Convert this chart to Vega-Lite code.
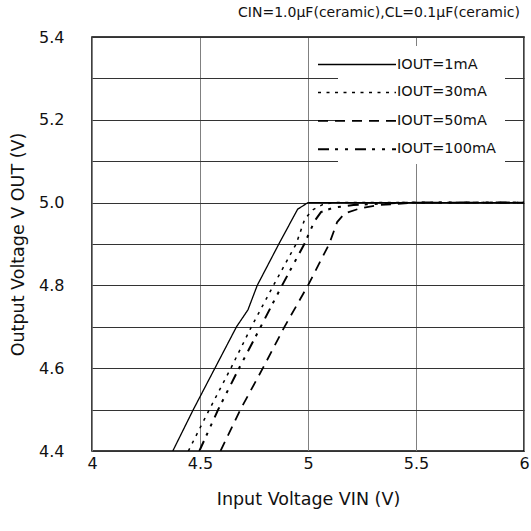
{
  "$schema": "https://vega.github.io/schema/vega-lite/v6.json",
  "width": 432,
  "height": 414,
  "autosize": {"type": "none"},
  "padding": {"left": 92, "top": 37, "right": 7, "bottom": 80},
  "background": "white",
  "config": {
    "font": "DejaVu Sans",
    "view": {"stroke": "black", "strokeWidth": 1.5},
    "axis": {"labelFont": "DejaVu Sans", "titleFont": "DejaVu Sans", "labelColor": "#111", "titleColor": "#111", "titleFontWeight": "normal", "domain": false, "ticks": false, "labelFlush": false}
  },
  "title": {
    "text": "CIN=1.0μF(ceramic),CL=0.1μF(ceramic)",
    "anchor": "end",
    "orient": "top",
    "frame": "group",
    "baseline": "bottom",
    "offset": -4.5,
    "dx": -4,
    "fontSize": 14,
    "fontWeight": "normal",
    "color": "#111",
    "font": "DejaVu Sans"
  },
  "data": {
    "values": [
      {"series": "IOUT=1mA", "vin": 4.374, "vout": 4.4},
      {"series": "IOUT=1mA", "vin": 4.469, "vout": 4.5},
      {"series": "IOUT=1mA", "vin": 4.569, "vout": 4.6},
      {"series": "IOUT=1mA", "vin": 4.669, "vout": 4.7},
      {"series": "IOUT=1mA", "vin": 4.722, "vout": 4.741},
      {"series": "IOUT=1mA", "vin": 4.765, "vout": 4.8},
      {"series": "IOUT=1mA", "vin": 4.865, "vout": 4.9},
      {"series": "IOUT=1mA", "vin": 4.952, "vout": 4.984},
      {"series": "IOUT=1mA", "vin": 5.0, "vout": 5.0},
      {"series": "IOUT=1mA", "vin": 6.0, "vout": 5.0},

      {"series": "IOUT=30mA", "vin": 4.446, "vout": 4.4},
      {"series": "IOUT=30mA", "vin": 4.543, "vout": 4.5},
      {"series": "IOUT=30mA", "vin": 4.643, "vout": 4.6},
      {"series": "IOUT=30mA", "vin": 4.738, "vout": 4.7},
      {"series": "IOUT=30mA", "vin": 4.84, "vout": 4.8},
      {"series": "IOUT=30mA", "vin": 4.945, "vout": 4.9},
      {"series": "IOUT=30mA", "vin": 4.985, "vout": 4.96},
      {"series": "IOUT=30mA", "vin": 5.02, "vout": 4.982},
      {"series": "IOUT=30mA", "vin": 5.067, "vout": 4.995},
      {"series": "IOUT=30mA", "vin": 5.12, "vout": 5.0},
      {"series": "IOUT=30mA", "vin": 6.0, "vout": 5.0},

      {"series": "IOUT=100mA", "vin": 4.497, "vout": 4.4},
      {"series": "IOUT=100mA", "vin": 4.584, "vout": 4.5},
      {"series": "IOUT=100mA", "vin": 4.681, "vout": 4.6},
      {"series": "IOUT=100mA", "vin": 4.781, "vout": 4.7},
      {"series": "IOUT=100mA", "vin": 4.88, "vout": 4.8},
      {"series": "IOUT=100mA", "vin": 4.983, "vout": 4.9},
      {"series": "IOUT=100mA", "vin": 5.03, "vout": 4.955},
      {"series": "IOUT=100mA", "vin": 5.06, "vout": 4.977},
      {"series": "IOUT=100mA", "vin": 5.12, "vout": 4.988},
      {"series": "IOUT=100mA", "vin": 5.21, "vout": 4.994},
      {"series": "IOUT=100mA", "vin": 5.36, "vout": 4.998},
      {"series": "IOUT=100mA", "vin": 5.45, "vout": 5.0},
      {"series": "IOUT=100mA", "vin": 6.0, "vout": 5.0},

      {"series": "IOUT=50mA", "vin": 4.595, "vout": 4.4},
      {"series": "IOUT=50mA", "vin": 4.687, "vout": 4.5},
      {"series": "IOUT=50mA", "vin": 4.791, "vout": 4.6},
      {"series": "IOUT=50mA", "vin": 4.891, "vout": 4.7},
      {"series": "IOUT=50mA", "vin": 5.0, "vout": 4.8},
      {"series": "IOUT=50mA", "vin": 5.098, "vout": 4.9},
      {"series": "IOUT=50mA", "vin": 5.135, "vout": 4.953},
      {"series": "IOUT=50mA", "vin": 5.17, "vout": 4.974},
      {"series": "IOUT=50mA", "vin": 5.24, "vout": 4.986},
      {"series": "IOUT=50mA", "vin": 5.33, "vout": 4.994},
      {"series": "IOUT=50mA", "vin": 5.41, "vout": 4.997},
      {"series": "IOUT=50mA", "vin": 5.5, "vout": 5.0},
      {"series": "IOUT=50mA", "vin": 6.0, "vout": 5.0}
    ]
  },
  "mark": {"type": "line", "color": "black", "clip": true},
  "encoding": {
    "x": {
      "field": "vin",
      "type": "quantitative",
      "scale": {"domain": [4, 6], "nice": false, "zero": false},
      "axis": {
        "values": [4, 4.5, 5, 5.5, 6],
        "format": ".1~f",
        "title": "Input Voltage VIN (V)",
        "labelFontSize": 16,
        "labelPadding": 4,
        "labelFlush": false,
        "titleFontSize": 17.5,
        "titlePadding": 19,
        "gridColor": "#808080",
        "gridOpacity": 1,
        "gridWidth": 1
      }
    },
    "y": {
      "field": "vout",
      "type": "quantitative",
      "scale": {"domain": [4.4, 5.4], "nice": false, "zero": false},
      "axis": {
        "values": [4.4, 4.5, 4.6, 4.7, 4.8, 4.9, 5.0, 5.1, 5.2, 5.3, 5.4],
        "labelExpr": "abs(round(datum.value * 10)) % 2 == 0 ? format(datum.value, '.1f') : ''",
        "title": "Output Voltage V  OUT (V)",
        "labelFontSize": 16,
        "labelPadding": 28,
        "labelFlush": false,
        "titleFontSize": 17.5,
        "titlePadding": 11,
        "gridColor": "#333",
        "gridOpacity": 1,
        "gridWidth": 1
      }
    },
    "strokeDash": {
      "field": "series",
      "type": "nominal",
      "scale": {
        "domain": ["IOUT=1mA", "IOUT=30mA", "IOUT=50mA", "IOUT=100mA"],
        "range": [[1, 0], [3, 5.5], [10, 7], [11, 6, 3, 7, 3, 7]]
      },
      "legend": {
        "title": null,
        "orient": "none",
        "legendX": 246,
        "legendY": 9,
        "fillColor": "white",
        "padding": 8,
        "symbolType": "M-4,0H4",
        "symbolSize": 380,
        "symbolStrokeColor": "black",
        "symbolStrokeWidth": 1.6,
        "labelOffset": 29,
        "labelFontSize": 14.5,
        "labelFont": "DejaVu Sans",
        "labelColor": "#111",
        "rowPadding": 10.4
      }
    },
    "strokeWidth": {
      "field": "series",
      "type": "nominal",
      "scale": {
        "domain": ["IOUT=1mA", "IOUT=30mA", "IOUT=50mA", "IOUT=100mA"],
        "range": [1.3, 2, 2, 2]
      },
      "legend": null
    }
  }
}
